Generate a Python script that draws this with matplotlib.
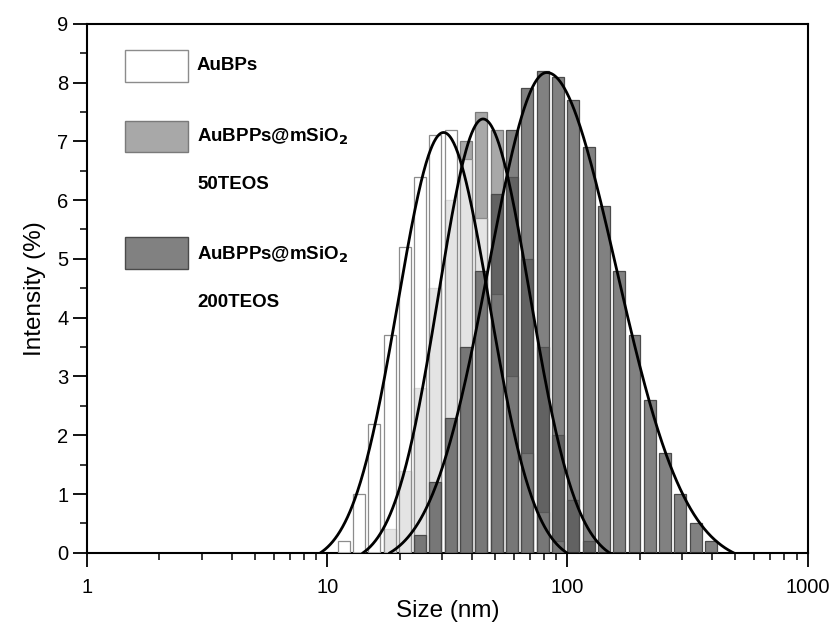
import numpy as np
import matplotlib.pyplot as plt
from matplotlib.patches import Rectangle

plt.rcParams['font.family'] = ['Liberation Sans', 'DejaVu Sans']

# DLS size classes (nm) and intensity (%) for each sample
sizes = [11.70, 13.54, 15.69, 18.17, 21.04, 24.36, 28.21, 32.67, 37.84, 43.82,
         50.75, 58.77, 68.06, 78.82, 91.28, 105.7, 122.4, 141.8, 164.2, 190.1,
         220.2, 255.0, 295.3, 342.0, 396.1]
aubps = [0.2, 1.0, 2.2, 3.7, 5.2, 6.4, 7.1, 7.2, 6.7, 5.7,
         4.4, 3.0, 1.7, 0.7, 0.2, 0, 0, 0, 0, 0,
         0, 0, 0, 0, 0]
teos50 = [0, 0, 0, 0.4, 1.4, 2.8, 4.5, 6.0, 7.0, 7.5,
          7.2, 6.4, 5.0, 3.5, 2.0, 0.9, 0.2, 0, 0, 0,
          0, 0, 0, 0, 0]
teos200 = [0, 0, 0, 0, 0, 0.3, 1.2, 2.3, 3.5, 4.8,
           6.1, 7.2, 7.9, 8.2, 8.1, 7.7, 6.9, 5.9, 4.8, 3.7,
           2.6, 1.7, 1.0, 0.5, 0.2]

# fitted peaks on log scale: peak size (nm), amplitude, left / right width (log10)
fit_aubps = (30.5, 7.15, 0.19, 0.19)
fit_teos50 = (44.5, 7.38, 0.185, 0.195)
fit_teos200 = (82.0, 8.17, 0.242, 0.288)

labels = ['AuBPs', 'AuBPPs@mSiO$_\\mathbf{2}$', 'AuBPPs@mSiO$_\\mathbf{2}$']
sublabels = ['', '50TEOS', '200TEOS']

face50 = '#a8a8a8'
face_au = (1, 1, 1, 0.7)
face200 = (0.24, 0.24, 0.24, 0.65)

fig = plt.figure(figsize=(8.37, 6.24), dpi=100)
ax = fig.add_axes([0.104, 0.114, 0.861, 0.848])
ax.set_xscale('log')

x = np.array(sizes)
half = 0.0638 * 0.78 / 2
left = x * 10 ** (-half)
width = x * (10 ** half - 10 ** (-half))


def draw_bars(vals, face, edge, z):
    vals = np.array(vals)
    m = vals > 0
    ax.bar(left[m], vals[m], width=width[m], align='edge', color=face,
           edgecolor=edge, linewidth=0.9, zorder=z)


draw_bars(teos50, face50, '#7a7a7a', 2)
draw_bars(aubps, face_au, '#8c8c8c', 3)
draw_bars(teos200, face200, '#4a4a4a', 4)


def fit_curve(p, cut=2.7):
    c, a, wl, wr = p
    lc = np.log10(c)
    lx = np.linspace(lc - cut * wl, lc + cut * wr, 400)
    w = np.where(lx < lc, wl, wr)
    g = np.exp(-(lx - lc) ** 2 / (2 * w ** 2))
    g0 = np.exp(-cut ** 2 / 2)
    y = a * (g - g0) / (1 - g0)
    ax.plot(10 ** lx, y, color='black', lw=2.0, zorder=6)


for p in [fit_aubps, fit_teos50, fit_teos200]:
    fit_curve(p)

ax.set_xlim(1, 1000)
ax.set_ylim(0, 9)
ax.set_yticks(np.arange(0, 10, 1))
ax.set_yticks(np.arange(0.5, 9, 1), minor=True)
ax.set_xticks([1, 10, 100, 1000])
ax.set_xticklabels(['1', '10', '100', '1000'])
ax.tick_params(which='major', direction='out', length=10, width=1.3, labelsize=14.5)
ax.tick_params(which='minor', direction='out', length=5, width=1.1)
ax.tick_params(axis='x', which='major', pad=8)
for s in ax.spines.values():
    s.set_linewidth(1.5)

ax.set_xlabel('Size (nm)', fontsize=17.5, labelpad=2)
ax.set_ylabel('Intensity (%)', fontsize=17.5, labelpad=8)

# legend drawn by hand
boxes = [(0.890, face_au, '#8c8c8c'), (0.757, face50, '#7a7a7a'), (0.537, face200, '#4a4a4a')]
text_y = [(0.921, None), (0.786, 0.696), (0.563, 0.473)]
for (y0, fc, ec), (ty1, ty2), lab, sub in zip(boxes, text_y, labels, sublabels):
    ax.add_patch(Rectangle((0.0527, y0), 0.087, 0.060, transform=ax.transAxes,
                           facecolor=fc, edgecolor=ec, linewidth=1.0, zorder=7))
    ax.text(0.1526, ty1, lab, transform=ax.transAxes, fontsize=13.5,
            fontweight='bold', va='center', ha='left', zorder=7)
    if ty2 is not None:
        ax.text(0.1526, ty2, sub, transform=ax.transAxes, fontsize=13.5,
                fontweight='bold', va='center', ha='left', zorder=7)

fig.savefig('out.png', dpi=100)
